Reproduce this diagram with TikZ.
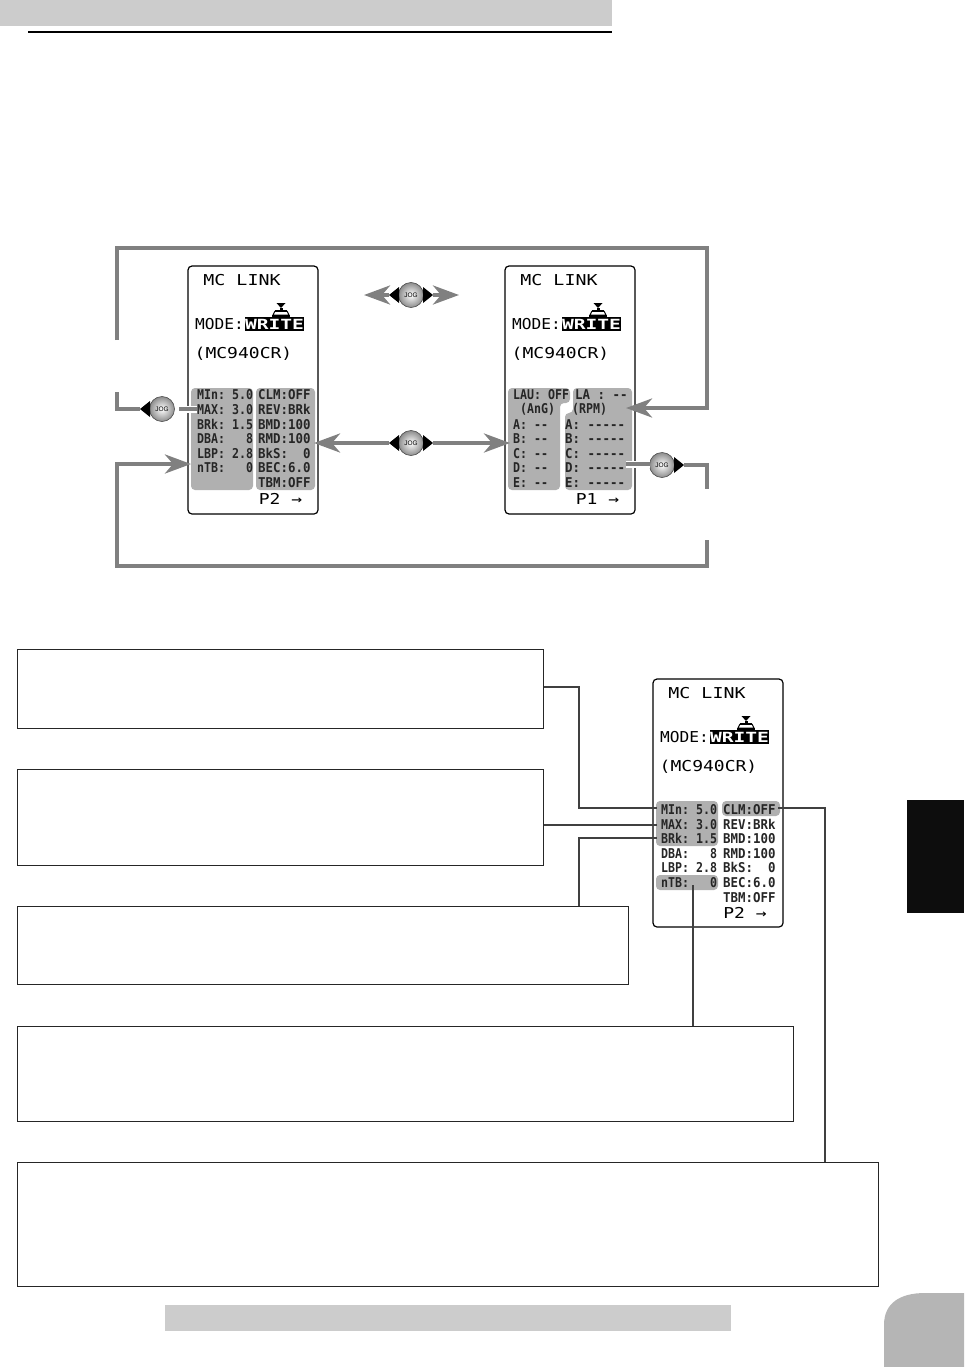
\documentclass[tikz,border=0pt]{standalone}
\usepackage{graphicx}
\usepackage{fontspec}
\setmonofont{DejaVu Sans Mono}
\setsansfont{Liberation Sans}
\usetikzlibrary{positioning,arrows.meta,calc}
\definecolor{bandgray}{HTML}{CCCCCC}
\definecolor{lcdgray}{HTML}{B0B0B0}
\definecolor{flowgray}{HTML}{808080}
\definecolor{leaderdark}{HTML}{404040}
\tikzset{
  screen/.style={draw=black,line width=1.2pt,rounded corners=4pt,fill=white,minimum width=130pt,minimum height=248pt,inner sep=0pt},
  lcdbig/.style={inner sep=0pt,font=\fontsize{15}{16}\selectfont\ttfamily},
  lcdrow/.style={inner sep=0pt,anchor=west,font=\fontsize{13.5}{14}\selectfont\ttfamily\bfseries,text=black!85},
  infobox/.style={draw=black!85,line width=1pt,inner sep=0pt},
  leader/.style={draw=leaderdark,line width=2pt},
  flow/.style={draw=flowgray,line width=4pt},
  flowtip/.style={flow,-{Stealth[length=26pt,width=19pt,inset=8pt]}},
  halo/.style={preaction={draw=white,line width=7pt}},
  jogball/.style={circle,draw=black!70,line width=.6pt,minimum size=25pt,inner sep=0pt,inner color=white,outer color=black!45,font=\sffamily\fontsize{6.5}{7}\selectfont},
}
% screen with heading, mode line and model line
\newcommand{\mcscreen}[3]{%
  \begin{scope}[shift={(#2,#3)}]
    \node[screen] (#1) at (65,124) {};
    \node[lcdbig] (#1head) at (54,14) {\scalebox{1.22}[1]{MC LINK}};
    \node[lcdbig] (#1mode) at (31.5,58) {\scalebox{1.08}[1]{MODE:}};
    \fill[black] (57,50.5) rectangle (116,65);
    \node[lcdbig,text=white,font=\fontsize{14}{15}\selectfont\ttfamily\bfseries] (#1write) at (86.5,58) {\scalebox{1.4}[1]{WRITE}};
    \fill[black] (88.5,37) -- (97.5,37) -- (93,42) -- cycle;
    \fill[black] (91.5,42) rectangle (94.5,44);
    \fill[black] (87,44) rectangle (99,46);
    \draw[black,line width=1pt] (87,45) -- (85,49) -- (101,49) -- (99,45);
    \fill[black] (84,49) rectangle (102,51);
    \node[lcdbig] (#1model) at (55.5,88) {\scalebox{1.2}[1]{(MC940CR)}};
  \end{scope}}
% small lcd rows, one column
\newcommand{\mcrows}[5]{%
  \foreach \txt [count=\i] in {#5} {
    \node[lcdrow] (#1\i) at ({#2},{#3+14.6*(\i-1)}) {\scalebox{#4}[1]{\txt}};
  }}
% black triangles on the jog button
\newcommand{\jogleft}[1]{\fill[black] ([xshift=-12pt,yshift=-8pt]#1.center) -- ([xshift=-22pt]#1.center) -- ([xshift=-12pt,yshift=8pt]#1.center) -- cycle;}
\newcommand{\jogright}[1]{\fill[black] ([xshift=12pt,yshift=-8pt]#1.center) -- ([xshift=22pt]#1.center) -- ([xshift=12pt,yshift=8pt]#1.center) -- cycle;}
\begin{document}
\begin{tikzpicture}[x=1pt,y=-1pt]
\useasboundingbox (0,0) rectangle (964,1367);
% page furniture
\fill[bandgray] (0,0) rectangle (612,26);
\draw[black,line width=2pt] (28,32) -- (612,32);
\fill[bandgray] (165,1305) rectangle (731,1331);
\fill[black!95] (907,800) rectangle (964,913);
\fill[black!29] (884,1367) -- (884,1325) .. controls (884,1303) and (900,1293) .. (925,1293) -- (964,1293) -- (964,1367) -- cycle;
% page two screen
\mcscreen{scrB}{188}{266}
\fill[lcdgray,rounded corners=4pt] (191,388) rectangle (253,490);
\fill[lcdgray,rounded corners=4pt] (256,388) rectangle (315,490);
\mcrows{rowBa}{197}{395}{.86}{MIn:~5.0,MAX:~3.0,BRk:~1.5,DBA:~~~8,LBP:~2.8,nTB:~~~0}
\mcrows{rowBb}{258}{395}{.92}{CLM:OFF,REV:BRk,BMD:100,RMD:100,BkS:~~0,BEC:6.0,TBM:OFF}
\node[lcdbig] (scrBpage) at (280.5,499) {\scalebox{1.2}[1]{P2 →}};
% page one screen
\mcscreen{scrA}{505}{266}
\fill[lcdgray,rounded corners=4pt] (508,388) -- (570,388) -- (570,403) -- (560,403) -- (560,490) -- (508,490) -- cycle;
\fill[lcdgray,rounded corners=4pt] (573,388) -- (632,388) -- (632,490) -- (565,490) -- (565,413) -- (573,413) -- cycle;
\node[lcdrow] (rowAtl) at (513,395) {\scalebox{.86}[1]{LAU:~OFF}};
\node[lcdrow] (rowAtr) at (575,395) {\scalebox{.92}[1]{LA~:~--}};
\node[lcdrow] (rowAul) at (520,409.6) {\scalebox{.86}[1]{(AnG)}};
\node[lcdrow] (rowAur) at (572,409.6) {\scalebox{.86}[1]{(RPM)}};
\mcrows{rowAa}{513}{424.2}{.86}{A:~--,B:~--,C:~--,D:~--,E:~--}
\mcrows{rowAb}{565}{424.2}{.92}{A:~-----,B:~-----,C:~-----,D:~-----,E:~-----}
\node[lcdbig] (scrApage) at (597.5,499) {\scalebox{1.2}[1]{P1 →}};
% jog buttons
\node[jogball] (jogTop) at (411,295) {JOG};
\node[jogball] (jogMid) at (411,443) {JOG};
\node[jogball] (jogLeft) at (162,409) {JOG};
\node[jogball] (jogRight) at (662,465) {JOG};
\jogleft{jogTop} \jogright{jogTop}
\jogleft{jogMid} \jogright{jogMid}
\jogleft{jogLeft} \jogright{jogRight}
% flow ends
\coordinate (loopOut) at (117,340);
\coordinate (loopIn) at (626,408);
\coordinate (backOut) at (707,540);
\coordinate (backIn) at (191,464);
\coordinate (leftStub) at (117,392);
\coordinate (rightStub) at (707,489);
\coordinate (tapLeft) at (197,409);
\coordinate (tapRight) at (626,464);
% jog arrows
\draw[flowtip] ([xshift=-22pt]jogTop.center) -- (364,295);
\draw[flowtip] ([xshift=22pt]jogTop.center) -- (459,295);
\draw[flowtip] ([xshift=-22pt]jogMid.center) -- (314,443);
\draw[flowtip] ([xshift=22pt]jogMid.center) -- (510,443);
% loops
\draw[flow] (leftStub) |- ([xshift=-22pt]jogLeft.center);
\draw[flow,halo] (tapLeft) -- (179,409);
\draw[flow] (684,465) -| (rightStub);
\draw[flow,halo] (tapRight) -- (650,464);
\draw[flowtip] (loopOut) |- (707,248) |- (loopIn);
\draw[flowtip] (backOut) |- (117,566) |- (backIn);
% info boxes
\node[infobox,minimum width=526pt,minimum height=79pt] (boxMin) at (280,688.5) {};
\node[infobox,minimum width=526pt,minimum height=96pt] (boxMax) at (280,817) {};
\node[infobox,minimum width=611pt,minimum height=78pt] (boxBrk) at (322.5,945) {};
\node[infobox,minimum width=776pt,minimum height=95pt] (boxNtb) at (405,1073.5) {};
\node[infobox,minimum width=861pt,minimum height=124pt] (boxClm) at (447.5,1224) {};
% screen with picked rows
\mcscreen{scrC}{653}{679}
\fill[lcdgray,rounded corners=4pt] (656,801) rectangle (718,846);
\fill[lcdgray,rounded corners=4pt] (722,801) rectangle (780,816);
\fill[lcdgray,rounded corners=4pt] (656,875) rectangle (718,890);
\mcrows{rowCa}{661}{809.5}{.86}{MIn:~5.0,MAX:~3.0,BRk:~1.5,DBA:~~~8,LBP:~2.8,nTB:~~~0}
\mcrows{rowCb}{723}{809.5}{.92}{CLM:OFF,REV:BRk,BMD:100,RMD:100,BkS:~~0,BEC:6.0,TBM:OFF}
\node[lcdbig] (scrCpage) at (745,913) {\scalebox{1.2}[1]{P2 →}};
% leaders
\coordinate (atMin) at (657,808);
\coordinate (atMax) at (657,825);
\coordinate (atBrk) at (657,838);
\coordinate (atNtb) at (693,885);
\coordinate (atClm) at (778,808);
\draw[leader] (boxMin.east |- 0,687) -| (579,808) -- (atMin);
\draw[leader] (boxMax.east |- atMax) -- (atMax);
\draw[leader] (boxBrk.north west -| 579,0) |- (atBrk);
\draw[leader] (boxNtb.north -| atNtb) -- (atNtb);
\draw[leader] (boxClm.north -| 825,0) |- (atClm);
\end{tikzpicture}
\end{document}
